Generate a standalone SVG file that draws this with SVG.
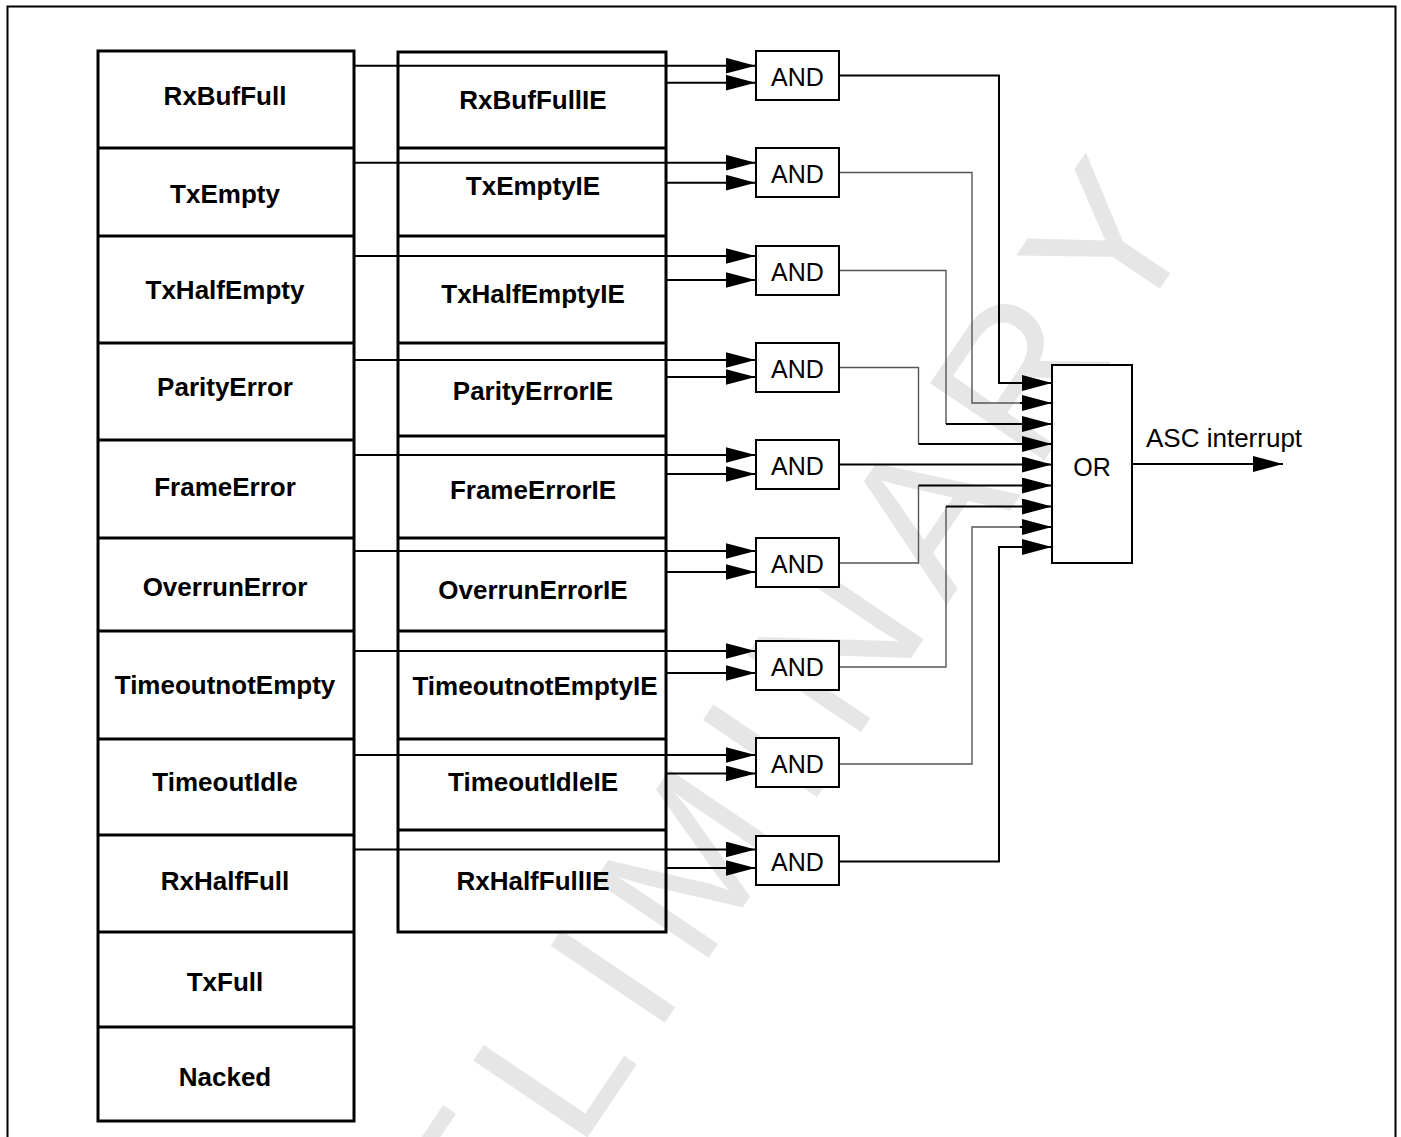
<svg xmlns="http://www.w3.org/2000/svg" width="1401" height="1137" viewBox="0 0 1401 1137">
<style>
.bg{fill:#ffffff}
.frame{fill:none;stroke:#000;stroke-width:2}
.col{fill:none;stroke:#000;stroke-width:3}
.sep{stroke:#000;stroke-width:3}
.lbl{font-family:"Liberation Sans",Arial,sans-serif;font-size:26px;font-weight:bold;fill:#000;text-anchor:middle}
.gate{fill:#fff;stroke:#000;stroke-width:2}
.gt{font-family:"Liberation Sans",Arial,sans-serif;font-size:25px;fill:#000;text-anchor:middle}
.ot{font-family:"Liberation Sans",Arial,sans-serif;font-size:26px;fill:#000}
.w{fill:none;stroke:#000;stroke-width:2}
.g{fill:none;stroke:#555;stroke-width:1.4}
.wm{font-family:"Liberation Sans",Arial,sans-serif;font-size:200px;fill:#e6e6e6;letter-spacing:25px}
</style>
<defs>
<marker id="ah" markerUnits="userSpaceOnUse" markerWidth="30" markerHeight="16" refX="30" refY="8" orient="auto" viewBox="0 0 30 16">
<path d="M0,0 L30,8 L0,16 z" fill="#000"/>
</marker>
</defs>
<rect class="bg" x="0" y="0" width="1401" height="1137"/>
<text class="wm" transform="translate(931,628) rotate(-56)" x="-1117" y="0">PRELIMINARY</text>
<rect class="frame" x="7.5" y="6.5" width="1388" height="1200"/>

<g id="status-column">
<rect class="col" x="98" y="51" width="256" height="1070"/>
<line class="sep" x1="98" y1="148" x2="354" y2="148"/>
<line class="sep" x1="98" y1="236" x2="354" y2="236"/>
<line class="sep" x1="98" y1="343" x2="354" y2="343"/>
<line class="sep" x1="98" y1="440" x2="354" y2="440"/>
<line class="sep" x1="98" y1="538" x2="354" y2="538"/>
<line class="sep" x1="98" y1="631" x2="354" y2="631"/>
<line class="sep" x1="98" y1="739" x2="354" y2="739"/>
<line class="sep" x1="98" y1="835" x2="354" y2="835"/>
<line class="sep" x1="98" y1="932" x2="354" y2="932"/>
<line class="sep" x1="98" y1="1027" x2="354" y2="1027"/>
</g>
<g id="s-RxBufFull"><text class="lbl" x="225" y="105">RxBufFull</text></g>
<g id="s-TxEmpty"><text class="lbl" x="225" y="203">TxEmpty</text></g>
<g id="s-TxHalfEmpty"><text class="lbl" x="225" y="299">TxHalfEmpty</text></g>
<g id="s-ParityError"><text class="lbl" x="225" y="396">ParityError</text></g>
<g id="s-FrameError"><text class="lbl" x="225" y="496">FrameError</text></g>
<g id="s-OverrunError"><text class="lbl" x="225" y="596">OverrunError</text></g>
<g id="s-TimeoutnotEmpty"><text class="lbl" x="225" y="694">TimeoutnotEmpty</text></g>
<g id="s-TimeoutIdle"><text class="lbl" x="225" y="791">TimeoutIdle</text></g>
<g id="s-RxHalfFull"><text class="lbl" x="225" y="890">RxHalfFull</text></g>
<g id="s-TxFull"><text class="lbl" x="225" y="991">TxFull</text></g>
<g id="s-Nacked"><text class="lbl" x="225" y="1086">Nacked</text></g>

<g id="enable-column">
<rect class="col" x="398" y="52" width="268" height="880"/>
<line class="sep" x1="398" y1="148" x2="666" y2="148"/>
<line class="sep" x1="398" y1="236" x2="666" y2="236"/>
<line class="sep" x1="398" y1="343" x2="666" y2="343"/>
<line class="sep" x1="398" y1="436" x2="666" y2="436"/>
<line class="sep" x1="398" y1="538" x2="666" y2="538"/>
<line class="sep" x1="398" y1="631" x2="666" y2="631"/>
<line class="sep" x1="398" y1="739" x2="666" y2="739"/>
<line class="sep" x1="398" y1="830" x2="666" y2="830"/>
</g>
<g id="e-RxBufFullIE"><text class="lbl" x="533" y="109">RxBufFullIE</text></g>
<g id="e-TxEmptyIE"><text class="lbl" x="533" y="195">TxEmptyIE</text></g>
<g id="e-TxHalfEmptyIE"><text class="lbl" x="533" y="303">TxHalfEmptyIE</text></g>
<g id="e-ParityErrorIE"><text class="lbl" x="533" y="400">ParityErrorIE</text></g>
<g id="e-FrameErrorIE"><text class="lbl" x="533" y="499">FrameErrorIE</text></g>
<g id="e-OverrunErrorIE"><text class="lbl" x="533" y="599">OverrunErrorIE</text></g>
<g id="e-TimeoutnotEmptyIE"><text class="lbl" x="535" y="695">TimeoutnotEmptyIE</text></g>
<g id="e-TimeoutIdleIE"><text class="lbl" x="533" y="791">TimeoutIdleIE</text></g>
<g id="e-RxHalfFullIE"><text class="lbl" x="533" y="890">RxHalfFullIE</text></g>

<g id="connectors">
<path class="w" marker-end="url(#ah)" d="M354,65.7 H755.5"/>
<path class="w" marker-end="url(#ah)" d="M666,82.7 H755.5"/>
<path class="w" marker-end="url(#ah)" d="M354,162.7 H755.5"/>
<path class="w" marker-end="url(#ah)" d="M666,182.7 H755.5"/>
<path class="w" marker-end="url(#ah)" d="M354,256 H755.5"/>
<path class="w" marker-end="url(#ah)" d="M666,280 H755.5"/>
<path class="w" marker-end="url(#ah)" d="M354,360 H755.5"/>
<path class="w" marker-end="url(#ah)" d="M666,377 H755.5"/>
<path class="w" marker-end="url(#ah)" d="M354,455 H755.5"/>
<path class="w" marker-end="url(#ah)" d="M666,474 H755.5"/>
<path class="w" marker-end="url(#ah)" d="M354,551 H755.5"/>
<path class="w" marker-end="url(#ah)" d="M666,572 H755.5"/>
<path class="w" marker-end="url(#ah)" d="M354,651 H755.5"/>
<path class="w" marker-end="url(#ah)" d="M666,673 H755.5"/>
<path class="w" marker-end="url(#ah)" d="M354,755 H755.5"/>
<path class="w" marker-end="url(#ah)" d="M666,773.5 H755.5"/>
<path class="w" marker-end="url(#ah)" d="M354,849.5 H755.5"/>
<path class="w" marker-end="url(#ah)" d="M666,868 H755.5"/>

<path class="w" marker-end="url(#ah)" d="M839,75.5 H999 V383 H1052"/>
<path class="g" d="M839,172.5 H972 V403 H1022"/>
<path class="w" marker-end="url(#ah)" d="M1020,403 H1052"/>
<path class="g" d="M839,270.5 H946 V424"/>
<path class="w" marker-end="url(#ah)" d="M946,424 H1052"/>
<path class="g" d="M839,367.5 H918.5 V444"/>
<path class="w" marker-end="url(#ah)" d="M918.5,444 H1052"/>
<path class="w" marker-end="url(#ah)" d="M839,464.5 H1052"/>
<path class="g" d="M839,563 H918.5 V485.5"/>
<path class="w" marker-end="url(#ah)" d="M918.5,485.5 H1052"/>
<path class="g" d="M839,667 H946 V506.5"/>
<path class="w" marker-end="url(#ah)" d="M946,506.5 H1052"/>
<path class="g" d="M839,764 H972 V527 H1022"/>
<path class="w" marker-end="url(#ah)" d="M1020,527 H1052"/>
<path class="w" marker-end="url(#ah)" d="M839,861.5 H999 V547 H1052"/>
<path class="w" marker-end="url(#ah)" d="M1132,464 H1283"/>
</g>

<g id="and1"><rect class="gate" x="756" y="51" width="83" height="49"/><text class="gt" x="797.5" y="86">AND</text></g>
<g id="and2"><rect class="gate" x="756" y="148" width="83" height="49"/><text class="gt" x="797.5" y="183">AND</text></g>
<g id="and3"><rect class="gate" x="756" y="246" width="83" height="49"/><text class="gt" x="797.5" y="281">AND</text></g>
<g id="and4"><rect class="gate" x="756" y="343" width="83" height="49"/><text class="gt" x="797.5" y="378">AND</text></g>
<g id="and5"><rect class="gate" x="756" y="440" width="83" height="49"/><text class="gt" x="797.5" y="475">AND</text></g>
<g id="and6"><rect class="gate" x="756" y="538" width="83" height="49"/><text class="gt" x="797.5" y="573">AND</text></g>
<g id="and7"><rect class="gate" x="756" y="641" width="83" height="49"/><text class="gt" x="797.5" y="676">AND</text></g>
<g id="and8"><rect class="gate" x="756" y="738" width="83" height="49"/><text class="gt" x="797.5" y="773">AND</text></g>
<g id="and9"><rect class="gate" x="756" y="836" width="83" height="49"/><text class="gt" x="797.5" y="871">AND</text></g>

<g id="or"><rect class="gate" x="1052" y="365" width="80" height="198"/><text class="gt" x="1092" y="476">OR</text></g>
<g id="out-label"><text class="ot" x="1146" y="447">ASC interrupt</text></g>
</svg>
